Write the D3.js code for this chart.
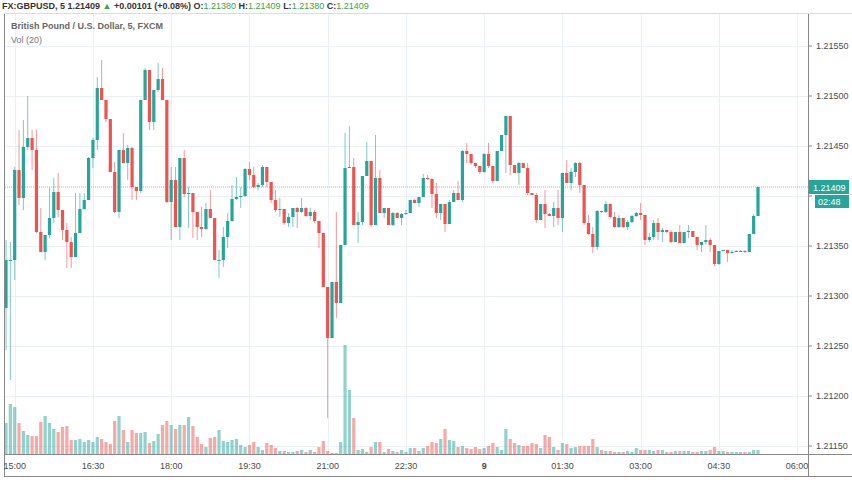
<!DOCTYPE html>
<html>
<head>
<meta charset="utf-8">
<script src="https://cdn.jsdelivr.net/npm/d3@7"></script>
<style>
  body { margin: 0; background: #fff; }
  svg text { font-family: "Liberation Sans", "DejaVu Sans", sans-serif; }
</style>
</head>
<body>
<div class="canvas"></div>
<script>
// candle data (5 minute bars, open = previous close)
const firstOpen = 1.21288;
const closes = [
  1.21336,1.21336,1.21426,1.21398,1.21449,1.21458,1.21446,1.21364,1.21344,1.21361,
  1.21378,1.21404,1.21386,1.21366,1.21354,1.21339,1.21363,1.21387,1.21396,1.21438,
  1.21456,1.21508,1.21496,1.21477,1.21424,1.21384,1.21446,1.21433,1.21448,1.21409,
  1.21405,1.21496,1.21526,1.21474,1.21506,1.21517,1.21496,1.21394,1.21416,1.21369,
  1.21438,1.21402,1.21403,1.21384,1.21369,1.21367,1.21387,1.21378,1.21336,1.21336,
  1.21359,1.21375,1.21397,1.21399,1.21400,1.21427,1.21421,1.21409,1.21411,1.21429,
  1.21414,1.21396,1.21386,1.21387,1.21373,1.21379,1.21388,1.21384,1.21388,1.21380,
  1.21384,1.21375,1.21363,1.21309,1.21258,1.21314,1.21293,1.21351,1.21428,1.21429,
  1.21371,1.21374,1.21420,1.21435,1.21371,1.21418,1.21383,1.21388,1.21371,1.21383,
  1.21378,1.21382,1.21383,1.21396,1.21393,1.21399,1.21418,1.21417,1.21402,1.21383,
  1.21392,1.21372,1.21394,1.21403,1.21396,1.21445,1.21442,1.21433,1.21430,1.21424,
  1.21442,1.21430,1.21415,1.21445,1.21461,1.21480,1.21431,1.21423,1.21433,1.21428,
  1.21403,1.21401,1.21376,1.21392,1.21382,1.21380,1.21388,1.21378,1.21423,1.21413,
  1.21424,1.21433,1.21411,1.21373,1.21362,1.21349,1.21385,1.21384,1.21392,1.21379,
  1.21369,1.21378,1.21369,1.21374,1.21380,1.21383,1.21381,1.21356,1.21359,1.21373,
  1.21364,1.21366,1.21364,1.21354,1.21364,1.21353,1.21364,1.21365,1.21359,1.21351,
  1.21354,1.21356,1.21351,1.21332,1.21345,1.21346,1.21343,1.21344,1.21345,1.21345,
  1.21344,1.21362,1.21380,1.21409
];
const highs = [
  1.21356,1.21354,1.21429,1.21466,1.21476,1.21500,1.21466,1.21466,1.21388,1.21361,
  1.21408,1.21418,1.21423,1.21386,1.21373,1.21359,1.21403,1.21403,1.21403,1.21439,
  1.21458,1.21519,1.21536,1.21496,1.21477,1.21434,1.21446,1.21463,1.21451,1.21449,
  1.21409,1.21496,1.21528,1.21526,1.21506,1.21533,1.21528,1.21496,1.21429,1.21429,
  1.21438,1.21446,1.21409,1.21403,1.21384,1.21389,1.21393,1.21406,1.21378,1.21346,
  1.21369,1.21383,1.21411,1.21419,1.21409,1.21428,1.21434,1.21429,1.21413,1.21431,
  1.21429,1.21414,1.21406,1.21398,1.21387,1.21383,1.21388,1.21389,1.21398,1.21389,
  1.21388,1.21386,1.21375,1.21363,1.21309,1.21314,1.21384,1.21351,1.21463,1.21470,
  1.21438,1.21384,1.21420,1.21454,1.21435,1.21461,1.21426,1.21388,1.21388,1.21384,
  1.21384,1.21383,1.21386,1.21396,1.21397,1.21399,1.21422,1.21421,1.21417,1.21413,
  1.21392,1.21392,1.21396,1.21406,1.21415,1.21446,1.21453,1.21442,1.21433,1.21430,
  1.21443,1.21453,1.21430,1.21445,1.21461,1.21480,1.21479,1.21431,1.21434,1.21433,
  1.21433,1.21403,1.21403,1.21392,1.21406,1.21383,1.21394,1.21406,1.21423,1.21436,
  1.21428,1.21434,1.21434,1.21411,1.21381,1.21369,1.21386,1.21385,1.21395,1.21393,
  1.21384,1.21381,1.21378,1.21376,1.21381,1.21384,1.21393,1.21381,1.21363,1.21376,
  1.21378,1.21368,1.21366,1.21366,1.21364,1.21371,1.21364,1.21371,1.21365,1.21359,
  1.21354,1.21371,1.21358,1.21351,1.21345,1.21346,1.21346,1.21346,1.21346,1.21346,
  1.21346,1.21362,1.21382,1.21409
];
const lows = [
  1.21246,1.21216,1.21316,1.21391,1.21386,1.21446,1.21426,1.21363,1.21344,1.21336,
  1.21358,1.21373,1.21379,1.21356,1.21328,1.21328,1.21339,1.21363,1.21386,1.21396,
  1.21428,1.21446,1.21496,1.21474,1.21424,1.21383,1.21378,1.21433,1.21416,1.21396,
  1.21396,1.21403,1.21496,1.21466,1.21466,1.21504,1.21496,1.21393,1.21356,1.21369,
  1.21356,1.21399,1.21368,1.21358,1.21356,1.21359,1.21366,1.21378,1.21336,1.21318,
  1.21329,1.21348,1.21374,1.21396,1.21388,1.21399,1.21416,1.21408,1.21406,1.21409,
  1.21409,1.21393,1.21384,1.21379,1.21371,1.21369,1.21369,1.21368,1.21383,1.21379,
  1.21376,1.21373,1.21348,1.21309,1.21178,1.21258,1.21278,1.21293,1.21351,1.21428,
  1.21371,1.21353,1.21371,1.21420,1.21369,1.21371,1.21383,1.21378,1.21371,1.21370,
  1.21378,1.21371,1.21381,1.21383,1.21393,1.21389,1.21399,1.21416,1.21388,1.21378,
  1.21376,1.21364,1.21372,1.21394,1.21396,1.21394,1.21433,1.21431,1.21428,1.21422,
  1.21423,1.21428,1.21413,1.21415,1.21445,1.21423,1.21421,1.21423,1.21411,1.21428,
  1.21401,1.21401,1.21373,1.21376,1.21368,1.21380,1.21369,1.21371,1.21364,1.21413,
  1.21406,1.21419,1.21403,1.21371,1.21361,1.21343,1.21346,1.21383,1.21383,1.21378,
  1.21368,1.21368,1.21368,1.21366,1.21373,1.21379,1.21376,1.21351,1.21354,1.21356,
  1.21356,1.21354,1.21363,1.21353,1.21354,1.21353,1.21353,1.21358,1.21359,1.21346,
  1.21344,1.21351,1.21344,1.21330,1.21331,1.21345,1.21334,1.21343,1.21344,1.21344,
  1.21343,1.21344,1.21362,1.21382
];
const volumes = [
  31,50,47,31,23,19,18,18,32,38, 31,25,22,27,28,14,14,15,12,14,
  12,17,15,12,10,33,38,24,12,24, 21,21,22,11,13,20,29,33,29,25,
  29,29,37,28,17,10,7,16,17,24, 13,12,14,15,9,7,9,12,7,4,
  11,9,6,3,3,2,2,3,4,2, 4,2,7,13,3,1,1,12,109,64,
  36,4,5,2,7,12,12,2,5,3, 2,4,2,6,6,3,6,8,12,11,
  15,25,14,13,7,8,6,5,7,5, 6,8,11,7,4,25,15,11,9,8,
  8,11,10,6,19,17,7,4,11,10, 6,7,8,8,8,15,7,4,3,3,
  2,2,2,3,2,6,4,4,4,3, 4,4,2,2,3,3,3,3,2,2,
  3,3,4,7,3,3,2,2,2,2, 2,2,4,4
];
const priceTicks = [1.21150,1.21200,1.21250,1.21300,1.21350,1.21400,1.21450,1.21500,1.21550];
const timeTicks = ["15:00","16:30","18:00","19:30","21:00","22:30","00:00","01:30","03:00","04:30","06:00"];
const lastPrice = 1.21409;

const w = 852, h = 485;
const plot = { left: 5, right: 808, top: 13, bottom: 454 };
const up = "#26a69a", down = "#ef5350";

const t0 = new Date(2020, 0, 8, 14, 50);
const step = 5 * 60 * 1000;
const bars = closes.map((c, i) => ({
  t: new Date(+t0 + i * step),
  o: i === 0 ? firstOpen : closes[i - 1],
  c: c, h: highs[i], l: lows[i], v: volumes[i]
}));

const x = d3.scaleTime()
  .domain([t0, new Date(+t0 + (closes.length - 1) * step)])
  .range([6, 758]);
const y = d3.scaleLinear().domain([1.21142, 1.21596]).range([454, 0]);
const yv = d3.scaleLinear().domain([0, 109]).range([454, 345]);

const svg = d3.select(".canvas").append("svg").attr("width", w).attr("height", h);

// grid
const tickDates = timeTicks.map((s, i) => new Date(+new Date(2020, 0, 8, 15, 0) + i * 90 * 60000));
svg.append("g").selectAll("line").data(priceTicks).enter().append("line")
  .attr("x1", plot.left).attr("x2", plot.right)
  .attr("y1", d => Math.round(y(d)) + 0.5).attr("y2", d => Math.round(y(d)) + 0.5)
  .attr("stroke", "#eaf0f6");
svg.append("g").selectAll("line").data(tickDates).enter().append("line")
  .attr("x1", d => Math.round(x(d)) + 0.5).attr("x2", d => Math.round(x(d)) + 0.5)
  .attr("y1", plot.top).attr("y2", plot.bottom)
  .attr("stroke", "#eaf0f6");

// volume
svg.append("g").selectAll("rect").data(bars).enter().append("rect")
  .attr("x", d => x(d.t) - 1.6).attr("width", 3.2)
  .attr("y", d => yv(d.v)).attr("height", d => 454 - yv(d.v))
  .attr("fill", d => d.c >= d.o ? "rgba(38,166,154,0.5)" : "rgba(239,83,80,0.5)");

// last price line
svg.append("line").attr("x1", plot.left).attr("x2", plot.right)
  .attr("y1", y(lastPrice)).attr("y2", y(lastPrice))
  .attr("stroke", up).attr("stroke-opacity", 0.6).attr("stroke-dasharray", "1,1");

// candles
const candles = svg.append("g").selectAll("g").data(bars).enter().append("g");
candles.append("line")
  .attr("x1", d => x(d.t)).attr("x2", d => x(d.t))
  .attr("y1", d => y(Math.max(d.h, d.o, d.c))).attr("y2", d => y(Math.min(d.l, d.o, d.c)))
  .attr("stroke", d => d.c >= d.o ? up : down).attr("stroke-opacity", 0.6).attr("stroke-width", 1);
candles.append("rect")
  .attr("x", d => x(d.t) - 1.6).attr("width", 3.2)
  .attr("y", d => y(Math.max(d.o, d.c)))
  .attr("height", d => Math.max(1, Math.abs(y(d.o) - y(d.c))))
  .attr("fill", d => d.c >= d.o ? up : down);

// frame
svg.append("line").attr("x1", 4.5).attr("x2", 4.5).attr("y1", plot.top).attr("y2", 476).attr("stroke", "#888");
svg.append("line").attr("x1", plot.right + 0.5).attr("x2", plot.right + 0.5).attr("y1", plot.top).attr("y2", 476).attr("stroke", "#888");
svg.append("line").attr("x1", 4).attr("x2", w).attr("y1", 454.5).attr("y2", 454.5).attr("stroke", "#888");
svg.append("line").attr("x1", 4).attr("x2", w).attr("y1", 476.5).attr("y2", 476.5).attr("stroke", "#888");
svg.append("line").attr("x1", 4).attr("x2", w).attr("y1", 13.5).attr("y2", 13.5).attr("stroke", "#ddd");

// price axis (the 1.21400 label sits under the last-price boxes)
const shownTicks = priceTicks.filter(d => Math.abs(y(d) - y(lastPrice)) > 14);
const pa = svg.append("g");
pa.selectAll("line").data(priceTicks).enter().append("line")
  .attr("x1", plot.right).attr("x2", plot.right + 4)
  .attr("y1", d => y(d)).attr("y2", d => y(d)).attr("stroke", "#888");
pa.selectAll("text").data(shownTicks).enter().append("text")
  .attr("x", 816).attr("y", d => y(d) + 3)
  .attr("font-size", 9).attr("fill", "#4a4a4a")
  .text(d => d.toFixed(5));

// time axis
svg.append("g").selectAll("text").data(tickDates).enter().append("text")
  .attr("x", d => x(d)).attr("y", 469).attr("text-anchor", "middle")
  .attr("font-size", 9).attr("fill", "#4a4a4a")
  .attr("font-weight", (d, i) => timeTicks[i] === "00:00" ? "bold" : null)
  .text((d, i) => timeTicks[i] === "00:00" ? "9" : timeTicks[i]);

// price labels
svg.append("rect").attr("x", 809).attr("y", y(lastPrice) - 7).attr("width", 40).attr("height", 14).attr("fill", up);
svg.append("text").attr("x", 813).attr("y", y(lastPrice) + 3.5).attr("font-size", 9).attr("fill", "#fff").text(lastPrice.toFixed(5));
svg.append("rect").attr("x", 815).attr("y", y(lastPrice) + 8).attr("width", 34).attr("height", 13).attr("fill", up);
svg.append("text").attr("x", 818).attr("y", y(lastPrice) + 18).attr("font-size", 9).attr("fill", "#fff").text("02:48");

// header
const hdr = svg.append("text").attr("x", 2).attr("y", 9).attr("font-size", 9).attr("font-weight", "bold").attr("fill", "#333");
hdr.append("tspan").text("FX:GBPUSD, 5  1.21409 ");
hdr.append("tspan").attr("fill", "#43a047").text("▲");
hdr.append("tspan").text(" +0.00101 (+0.08%) O:");
hdr.append("tspan").attr("fill", "#43a047").attr("font-weight", "normal").text("1.21380");
hdr.append("tspan").text(" H:");
hdr.append("tspan").attr("fill", "#43a047").attr("font-weight", "normal").text("1.21409");
hdr.append("tspan").text(" L:");
hdr.append("tspan").attr("fill", "#43a047").attr("font-weight", "normal").text("1.21380");
hdr.append("tspan").text(" C:");
hdr.append("tspan").attr("fill", "#43a047").attr("font-weight", "normal").text("1.21409");

svg.append("text").attr("x", 11).attr("y", 29).attr("font-size", 9).attr("font-weight", "bold").attr("fill", "#666")
  .text("British Pound / U.S. Dollar, 5, FXCM");
svg.append("text").attr("x", 11).attr("y", 43).attr("font-size", 9).attr("fill", "#777").text("Vol (20)");
</script>
</body>
</html>
